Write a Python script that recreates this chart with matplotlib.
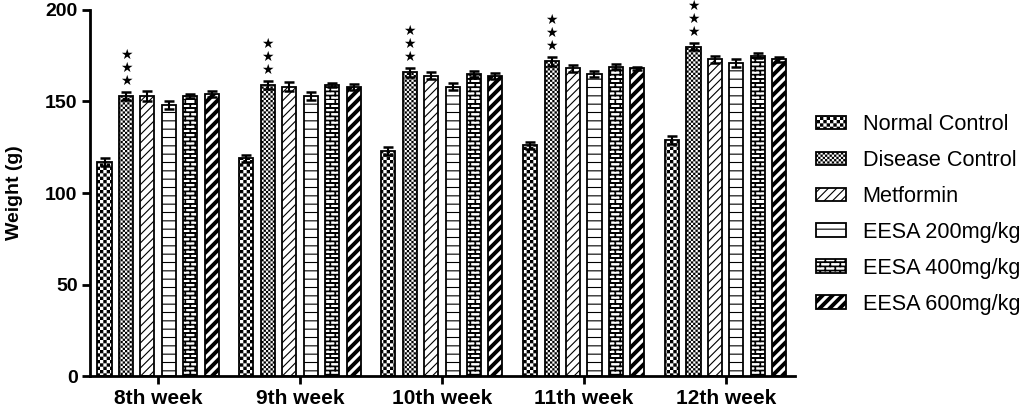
import numpy as np
import matplotlib
matplotlib.use("Agg")
import matplotlib.pyplot as plt
import matplotlib.hatch as mhatch
from matplotlib.path import Path

weeks = ["8th week", "9th week", "10th week", "11th week", "12th week"]
groups = ["Normal Control", "Disease Control", "Metformin",
          "EESA 200mg/kg", "EESA 400mg/kg", "EESA 600mg/kg"]

normal_control = [117, 119, 123, 126, 129]
disease_control = [153, 159, 166, 172, 180]
metformin = [153, 158, 164, 168, 173]
eesa_200 = [148, 153, 158, 165, 171]
eesa_400 = [153, 159, 165, 169, 175]
eesa_600 = [154, 158, 164, 168, 173]

nc_err = [2, 2, 2, 2, 2]
dc_err = [2, 2, 2.5, 2.5, 2]
met_err = [2.5, 2.5, 2, 2, 2]
e200_err = [2, 2, 2, 1.5, 2]
e400_err = [1, 1, 1.5, 1.5, 1.5]
e600_err = [1.5, 1.5, 1.5, 1, 1.5]

stars = "***"  # significance marks over Disease Control

HATCH_LW = 0.8
LW_UNIT = HATCH_LW / 72.0  # hatch line width in hatch-tile units

SQ = [Path.MOVETO, Path.LINETO, Path.LINETO, Path.LINETO, Path.CLOSEPOLY]


def rect(x0, y0, x1, y1):
    return [[x0, y0], [x1, y0], [x1, y1], [x0, y1], [x0, y0]]


# --- extra hatch patterns: checkerboard ('O'), bricks ('*'), thick stripes ('|')
class Checker(mhatch.HatchPatternBase):
    def __init__(self, hatch, density):
        c = hatch.count('O')
        self.n = {0: 0, 1: 30, 2: 44}.get(c, 44)
        self.num_vertices = (self.n * self.n // 2) * 5

    def set_vertices_and_codes(self, vertices, codes):
        s = 1.0 / self.n
        d = LW_UNIT / 2
        k = 0
        for i in range(self.n):
            for j in range(self.n):
                if (i + j) % 2:
                    continue
                vertices[k:k + 5] = rect(j * s + d, i * s + d,
                                         (j + 1) * s - d, (i + 1) * s - d)
                codes[k:k + 5] = SQ
                k += 5


class Bricks(mhatch.HatchPatternBase):
    def __init__(self, hatch, density):
        c = hatch.count('*')
        self.rows = c * 24
        self.cols = c * 10
        self.num_vertices = 5 * (self.rows + self.rows * self.cols) if c else 0

    def set_vertices_and_codes(self, vertices, codes):
        h = 1.0 / self.rows
        w = 1.0 / self.cols
        t = 0.006
        k = 0
        for i in range(self.rows):
            y = i * h
            vertices[k:k + 5] = rect(0, y, 1, y + t)
            codes[k:k + 5] = SQ
            k += 5
            shift = (i % 2) * w / 2
            for j in range(self.cols):
                x = j * w + shift
                vertices[k:k + 5] = rect(x, y, x + t, y + h)
                codes[k:k + 5] = SQ
                k += 5


class ThickStripes(mhatch.HatchPatternBase):
    def __init__(self, hatch, density):
        c = hatch.count('|')
        self.n = c * 10
        self.num_vertices = (2 * self.n + 1) * 5 if c else 0

    def set_vertices_and_codes(self, vertices, codes):
        w = 0.40 / self.n
        k = 0
        for m in range(-self.n, self.n + 1):
            c0 = m / self.n
            vertices[k:k + 5] = [[0, c0], [1, c0 + 1], [1, c0 + 1 + w],
                                 [0, c0 + w], [0, c0]]
            codes[k:k + 5] = SQ
            k += 5


drop = {'VerticalHatch', 'LargeCircles', 'Stars'}
mhatch._hatch_types = [t for t in mhatch._hatch_types if t.__name__ not in drop]
mhatch._hatch_types += [Checker, Bricks, ThickStripes]

plt.rcParams['font.family'] = ['Liberation Sans', 'DejaVu Sans']
plt.rcParams['hatch.linewidth'] = HATCH_LW

series = [normal_control, disease_control, metformin, eesa_200, eesa_400, eesa_600]
errors = [nc_err, dc_err, met_err, e200_err, e400_err, e600_err]
hatches = ['O', 'OO', '////', '--', '*', '|']

fig = plt.figure(figsize=(10.24, 4.12), dpi=100)
ax = fig.add_axes([0.088, 0.087, 0.688, 0.889])

x = np.arange(len(weeks))
pitch = 0.151
width = 0.099
for i, (vals, err, h, lab) in enumerate(zip(series, errors, hatches, groups)):
    pos = x + (i - 2.5) * pitch
    ax.bar(pos, vals, width, facecolor='white', edgecolor='black',
           linewidth=1.3, hatch=h, label=lab, zorder=2)
    ax.errorbar(pos, vals, yerr=err, fmt='none', ecolor='black',
                elinewidth=1.5, capsize=3.5, capthick=1.8, zorder=3)
    if i == 1:
        for px, v, e in zip(pos, vals, err):
            for k in range(len(stars)):
                ax.annotate('★', xy=(px, v + e), xytext=(0, 8 + 9.3 * k),
                            textcoords='offset points', ha='center',
                            va='center', fontsize=10, family='DejaVu Sans',
                            annotation_clip=False)

ax.set_xlim(-0.479, 4.486)
ax.set_ylim(0, 200)
ax.set_yticks([0, 50, 100, 150, 200])
ax.set_xticks(x)
ax.set_xticklabels(weeks, fontweight='bold', fontsize=15)
for t in ax.get_yticklabels():
    t.set_fontweight('bold')
    t.set_fontsize(14)
ax.set_ylabel('Weight (g)', fontweight='bold', fontsize=14, labelpad=16)
for s in ['top', 'right']:
    ax.spines[s].set_visible(False)
for s in ['left', 'bottom']:
    ax.spines[s].set_linewidth(2)
ax.tick_params(width=2, length=6, pad=3)

fig.legend(loc='center left', bbox_to_anchor=(0.797, 0.48), frameon=False,
           fontsize=15.6, handlelength=1.38, handleheight=0.56,
           handletextpad=0.77, labelspacing=0.69, borderpad=0,
           borderaxespad=0)

fig.savefig('out.png', dpi=100)
